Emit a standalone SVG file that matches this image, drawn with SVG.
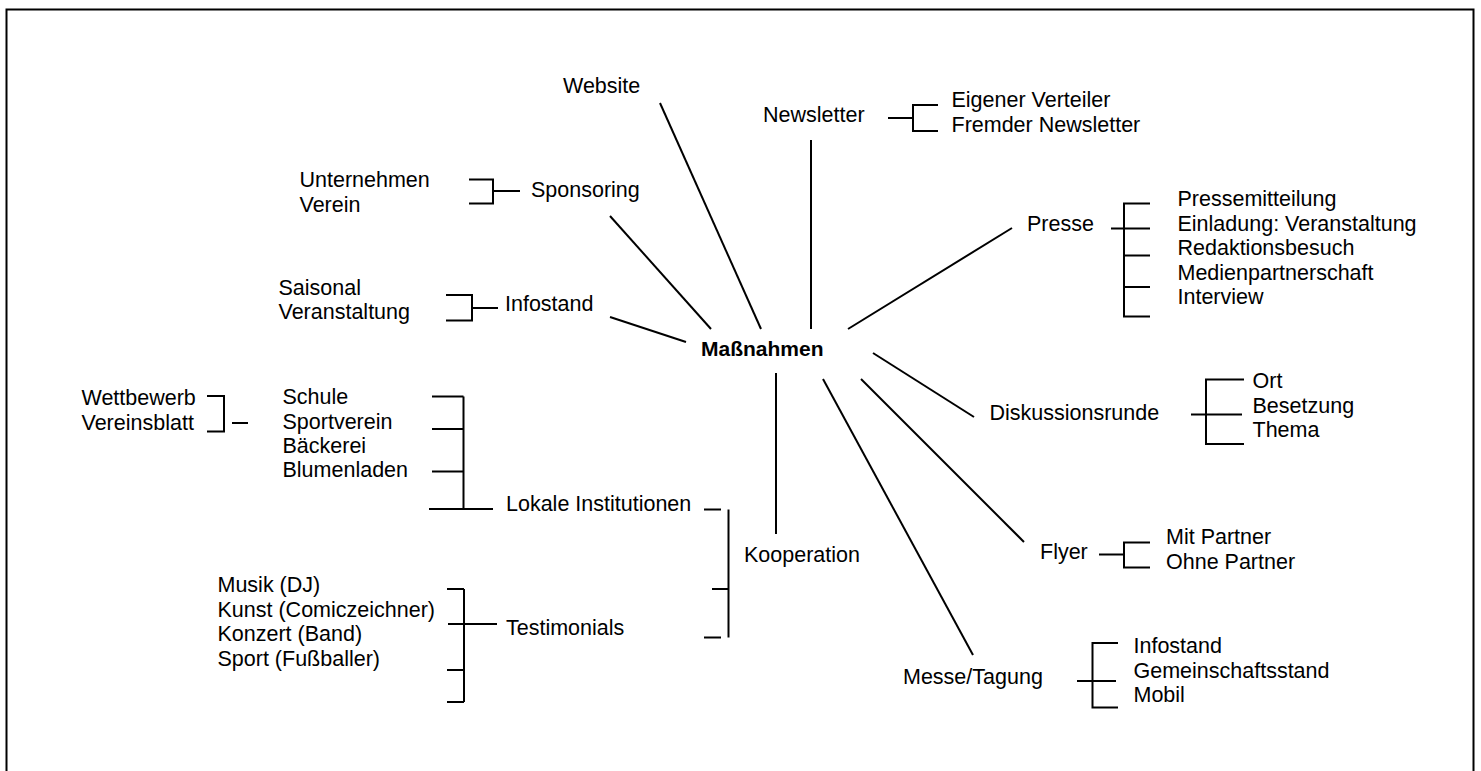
<svg xmlns="http://www.w3.org/2000/svg" width="1481" height="771" viewBox="0 0 1481 771">
<style>
text{font-family:"Liberation Sans",Arial,sans-serif;font-size:21.5px;fill:#000}
.b{font-weight:bold;font-size:21px}
line,polyline{stroke:#000;stroke-width:2;fill:none}
</style>
<rect x="0" y="0" width="1481" height="771" fill="#fff"/>
<rect x="6.5" y="9.5" width="1467" height="800" fill="none" stroke="#000" stroke-width="2"/>
<g id="connectors">
<line x1="660" y1="103" x2="761" y2="329"/>
<line x1="811" y1="140" x2="811" y2="329"/>
<line x1="848" y1="329" x2="1012" y2="228"/>
<line x1="610" y1="216" x2="711" y2="329"/>
<line x1="610" y1="317" x2="686" y2="342"/>
<line x1="873" y1="353" x2="974" y2="417"/>
<line x1="861" y1="379" x2="1024" y2="542"/>
<line x1="823" y1="379" x2="973" y2="655"/>
<line x1="776" y1="373" x2="776" y2="534"/>
<line x1="888" y1="118" x2="913" y2="118"/>
<polyline points="938,105 913,105 913,131 938,131"/>
<polyline points="469,179.5 493,179.5 493,203.5 469,203.5"/>
<line x1="493" y1="191" x2="520" y2="191"/>
<polyline points="446,295 472,295 472,320.5 446,320.5"/>
<line x1="472" y1="308" x2="498" y2="308"/>
<polyline points="207,396 224,396 224,431.5 207,431.5"/>
<line x1="232" y1="423" x2="248" y2="423"/>
<line x1="463.5" y1="396.5" x2="463.5" y2="509"/>
<line x1="432" y1="396.5" x2="463.5" y2="396.5"/>
<line x1="432" y1="429" x2="463.5" y2="429"/>
<line x1="432" y1="471.5" x2="463.5" y2="471.5"/>
<line x1="429" y1="509" x2="493" y2="509"/>
<line x1="464" y1="589" x2="464" y2="702"/>
<line x1="447" y1="589" x2="464" y2="589"/>
<line x1="448" y1="624" x2="497" y2="624"/>
<line x1="447" y1="670" x2="464" y2="670"/>
<line x1="447" y1="702" x2="464" y2="702"/>
<line x1="704" y1="509.5" x2="721" y2="509.5"/>
<line x1="728.5" y1="509.5" x2="728.5" y2="637.5"/>
<line x1="712" y1="589" x2="728.5" y2="589"/>
<line x1="704" y1="637.5" x2="721" y2="637.5"/>
<line x1="1111" y1="228.5" x2="1150" y2="228.5"/>
<polyline points="1150,203.5 1124,203.5 1124,316.5 1150,316.5"/>
<line x1="1124" y1="255.5" x2="1150" y2="255.5"/>
<line x1="1124" y1="287" x2="1150" y2="287"/>
<line x1="1191" y1="414.5" x2="1242" y2="414.5"/>
<polyline points="1244,379.5 1206,379.5 1206,444 1244,444"/>
<line x1="1099" y1="554.5" x2="1124" y2="554.5"/>
<polyline points="1150,542.5 1124,542.5 1124,567.5 1150,567.5"/>
<line x1="1077" y1="681" x2="1116" y2="681"/>
<polyline points="1118,643 1092.5,643 1092.5,707.5 1118,707.5"/>
</g>
<g id="center"><text class="b" x="701" y="356">Maßnahmen</text></g>
<g id="website"><text x="563" y="92.5">Website</text></g>
<g id="newsletter"><text x="763" y="122">Newsletter</text></g>
<g id="newsletter-items"><text x="951.5" y="107">Eigener Verteiler</text><text x="951.5" y="131.5">Fremder Newsletter</text></g>
<g id="sponsoring"><text x="531" y="197">Sponsoring</text></g>
<g id="sponsoring-items"><text x="299.5" y="187">Unternehmen</text><text x="299.5" y="211.5">Verein</text></g>
<g id="infostand"><text x="505" y="311">Infostand</text></g>
<g id="infostand-items"><text x="278.5" y="294.5">Saisonal</text><text x="278.5" y="319">Veranstaltung</text></g>
<g id="presse"><text x="1027" y="231">Presse</text></g>
<g id="presse-items"><text x="1177.5" y="206">Pressemitteilung</text><text x="1177.5" y="230.5">Einladung: Veranstaltung</text><text x="1177.5" y="255">Redaktionsbesuch</text><text x="1177.5" y="279.5">Medienpartnerschaft</text><text x="1177.5" y="304">Interview</text></g>
<g id="diskussionsrunde"><text x="989.5" y="419.5">Diskussionsrunde</text></g>
<g id="diskussion-items"><text x="1252.5" y="388">Ort</text><text x="1252.5" y="412.5">Besetzung</text><text x="1252.5" y="437">Thema</text></g>
<g id="flyer"><text x="1040" y="559">Flyer</text></g>
<g id="flyer-items"><text x="1166" y="544">Mit Partner</text><text x="1166" y="568.5">Ohne Partner</text></g>
<g id="messe"><text x="903" y="684">Messe/Tagung</text></g>
<g id="messe-items"><text x="1133.5" y="653">Infostand</text><text x="1133.5" y="677.5">Gemeinschaftsstand</text><text x="1133.5" y="702">Mobil</text></g>
<g id="kooperation"><text x="744" y="562">Kooperation</text></g>
<g id="lokale"><text x="506" y="511">Lokale Institutionen</text></g>
<g id="lokale-items"><text x="282.5" y="404">Schule</text><text x="282.5" y="428.5">Sportverein</text><text x="282.5" y="453">Bäckerei</text><text x="282.5" y="477">Blumenladen</text></g>
<g id="lokale-sub"><text x="81.5" y="405">Wettbewerb</text><text x="81.5" y="429.5">Vereinsblatt</text></g>
<g id="testimonials"><text x="506" y="635">Testimonials</text></g>
<g id="testimonials-items"><text x="217.5" y="592">Musik (DJ)</text><text x="217.5" y="616.5">Kunst (Comiczeichner)</text><text x="217.5" y="641">Konzert (Band)</text><text x="217.5" y="665.5">Sport (Fußballer)</text></g>
</svg>
